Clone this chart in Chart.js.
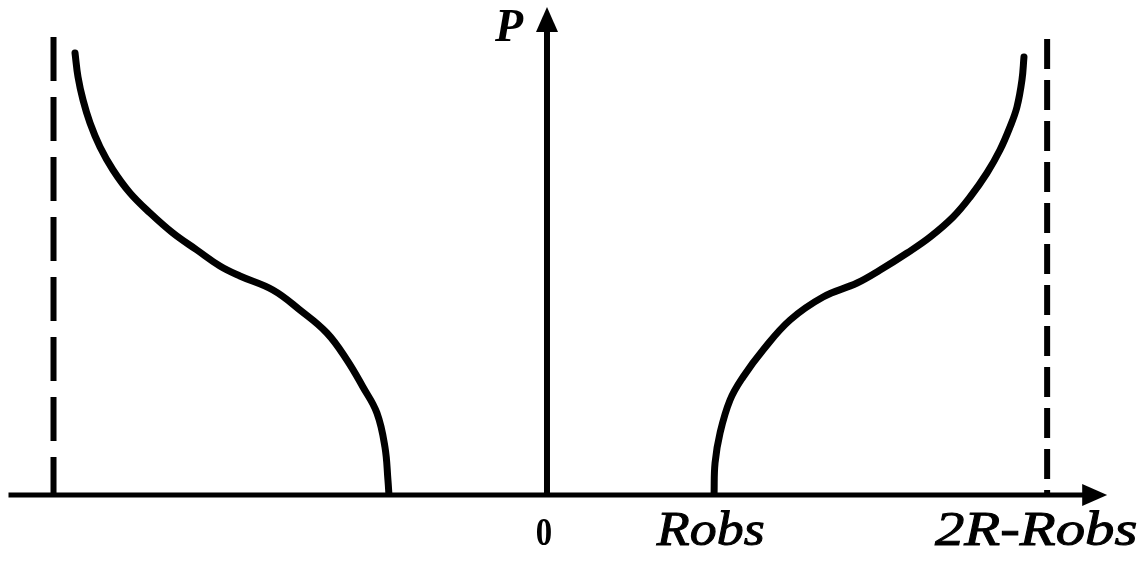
<!DOCTYPE html>
<html>
<head>
<meta charset="utf-8">
<title>P(r)</title>
<script src="https://cdn.jsdelivr.net/npm/chart.js@4.4.1/dist/chart.umd.min.js"></script>
<style>
  html, body { margin: 0; padding: 0; background: #fff; }
  #chart { display: block; }
</style>
</head>
<body>
<canvas id="chart" width="1139" height="561"></canvas>
<script>
// x in units of the distance, P on the vertical axis
const leftX  = [-2.831, -2.813, -2.783, -2.741, -2.681, -2.603, -2.501, -2.381, -2.244, -2.100, -1.962, -1.842, -1.644, -1.482, -1.320, -1.200, -1.104, -1.020, -0.972, -0.954, -0.948];
const leftP  = [4.42, 4.18, 3.95, 3.72, 3.48, 3.25, 3.02, 2.82, 2.62, 2.45, 2.29, 2.19, 2.05, 1.85, 1.62, 1.35, 1.08, 0.82, 0.48, 0.15, 0.00];
const rightX = [1.002, 1.008, 1.038, 1.098, 1.176, 1.296, 1.458, 1.656, 1.860, 1.998, 2.160, 2.298, 2.436, 2.538, 2.639, 2.717, 2.777, 2.819, 2.849, 2.861];
const rightP = [0.00, 0.32, 0.62, 0.95, 1.18, 1.45, 1.75, 1.98, 2.12, 2.25, 2.42, 2.58, 2.78, 2.98, 3.22, 3.45, 3.68, 3.88, 4.15, 4.38];

// dashed asymptotes
const asymX   = [-2.96, 3.0];
const asymTop = [4.58, 4.56];

// axis ticks under the x axis
const tickValues = [0, 1, 3];
const tickLabels = ['0', 'Robs', '2R-Robs'];

const xAxisFrom = -3.23, xAxisTo = 3.36, pAxisTop = 4.88;

const serif = '"Liberation Serif", "Times New Roman", serif';

function pts(xs, ys) {
  return xs.map((x, i) => ({ x: x, y: ys[i] }));
}

const ink = '#000';

// axes with arrow heads + labels, drawn through the chart scales
const axesPlugin = {
  id: 'arrowAxes',
  beforeDatasetsDraw(chart) {
    const ctx = chart.ctx;
    const sx = chart.scales.x, sy = chart.scales.y;
    const y0 = sy.getPixelForValue(0);
    const x0 = sx.getPixelForValue(0);
    const head = 25, half = 11;

    ctx.save();
    ctx.strokeStyle = ink;
    ctx.fillStyle = ink;
    ctx.lineCap = 'butt';

    // horizontal axis
    const xa = sx.getPixelForValue(xAxisFrom), xb = sx.getPixelForValue(xAxisTo);
    ctx.lineWidth = 5;
    ctx.beginPath();
    ctx.moveTo(xa, y0);
    ctx.lineTo(xb - head + 2, y0);
    ctx.stroke();
    ctx.beginPath();
    ctx.moveTo(xb, y0);
    ctx.lineTo(xb - head, y0 - half);
    ctx.lineTo(xb - head, y0 + half);
    ctx.closePath();
    ctx.fill();

    // vertical axis
    const yt = sy.getPixelForValue(pAxisTop);
    ctx.lineWidth = 6;
    ctx.beginPath();
    ctx.moveTo(x0, y0);
    ctx.lineTo(x0, yt + head - 2);
    ctx.stroke();
    ctx.beginPath();
    ctx.moveTo(x0, yt);
    ctx.lineTo(x0 - half, yt + head);
    ctx.lineTo(x0 + half, yt + head);
    ctx.closePath();
    ctx.fill();

    // P label
    ctx.font = 'italic bold 46px ' + serif;
    ctx.textAlign = 'right';
    ctx.textBaseline = 'alphabetic';
    ctx.fillText('P', x0 - 24, yt + 34);

    // tick labels, stretched a little sideways
    ctx.textAlign = 'center';
    ctx.lineWidth = 1;
    const stretch = [0.8, 1.1, 1.2];
    const shift = [-3, -3, -11];
    tickValues.forEach((v, i) => {
      const px = sx.getPixelForValue(v);
      ctx.save();
      ctx.font = i === 0 ? 'bold 41px ' + serif : 'italic 49px ' + serif;
      ctx.translate(px + shift[i], y0 + 50);
      ctx.scale(stretch[i], 1);
      ctx.fillText(tickLabels[i], 0, 0);
      if (i > 0) ctx.strokeText(tickLabels[i], 0, 0);
      ctx.restore();
    });
    ctx.restore();
  }
};

const curveStyle = {
  showLine: true,
  borderColor: ink,
  borderWidth: 7,
  pointRadius: 0,
  tension: 0.4,
  borderCapStyle: 'round'
};

const ctx = document.getElementById('chart').getContext('2d');

new Chart(ctx, {
  type: 'scatter',
  data: {
    datasets: [
      Object.assign({ data: pts(leftX, leftP) }, curveStyle),
      Object.assign({ data: pts(rightX, rightP) }, curveStyle),
      {
        // drawn from the top so the dash pattern starts there
        data: [{ x: asymX[0], y: asymTop[0] }, { x: asymX[0], y: 0 }],
        showLine: true,
        borderColor: ink,
        borderWidth: 6,
        borderDash: [44, 16],
        pointRadius: 0
      },
      {
        data: [{ x: asymX[1], y: asymTop[1] }, { x: asymX[1], y: 0 }],
        showLine: true,
        borderColor: ink,
        borderWidth: 6,
        borderDash: [30, 11],
        pointRadius: 0
      }
    ]
  },
  options: {
    responsive: false,
    animation: false,
    layout: { padding: { left: 0, right: 0, top: 0, bottom: 66 } },
    scales: {
      x: { type: 'linear', min: -3.281, max: 3.551, display: false },
      y: { type: 'linear', min: 0, max: 4.95, display: false }
    },
    plugins: {
      legend: { display: false },
      tooltip: { enabled: false }
    }
  },
  plugins: [axesPlugin]
});
</script>
</body>
</html>
